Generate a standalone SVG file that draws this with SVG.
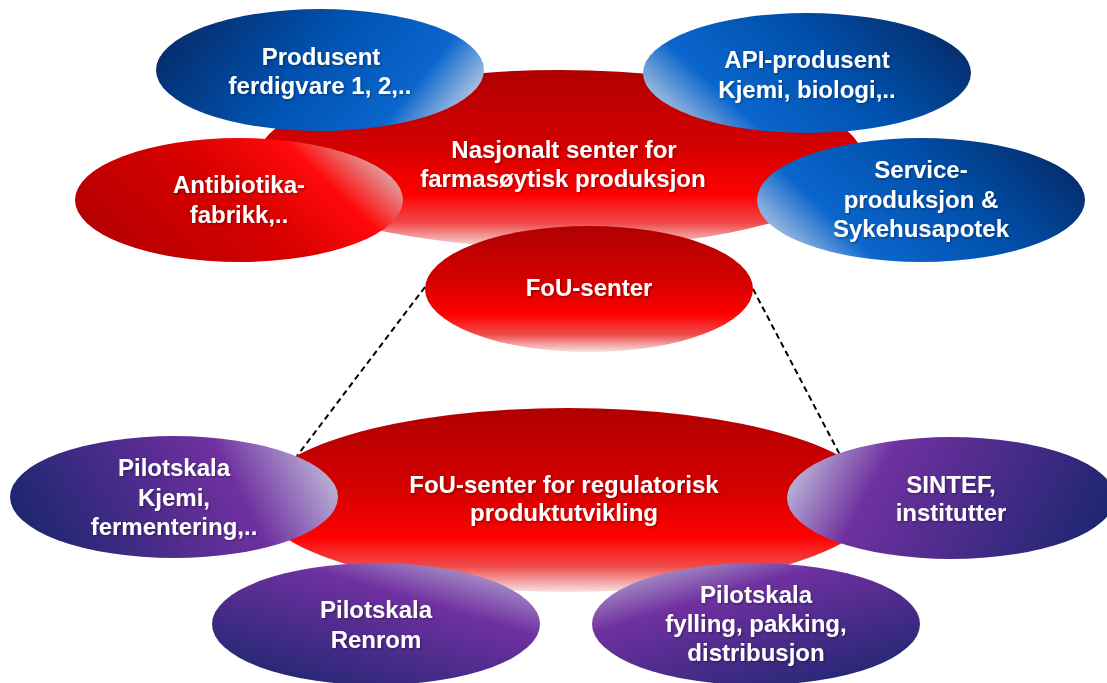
<svg xmlns="http://www.w3.org/2000/svg" width="1107" height="683" viewBox="0 0 1107 683">
<style>
  text { font-family: "Liberation Sans", Arial, sans-serif; font-weight: bold; font-size: 24px; fill: #ffffff; text-anchor: middle; filter: url(#ts); }
  .dash { stroke: #000000; stroke-width: 2; stroke-dasharray: 6 4; fill: none; }
</style>
<defs>
  <filter id="ts" x="-10%" y="-30%" width="120%" height="160%">
    <feDropShadow dx="1.2" dy="1.2" stdDeviation="0.8" flood-color="#000000" flood-opacity="0.35"/>
  </filter>
  <linearGradient id="redV" x1="0" y1="0" x2="0" y2="1">
    <stop offset="0" stop-color="#b00000"/>
    <stop offset="0.45" stop-color="#d60000"/>
    <stop offset="0.7" stop-color="#ff0000"/>
    <stop offset="0.86" stop-color="#f04a4a"/>
    <stop offset="1" stop-color="#f6e2e2"/>
  </linearGradient>
  <linearGradient id="redH" x1="0" y1="0.7" x2="1" y2="0.3">
    <stop offset="0" stop-color="#b40000"/>
    <stop offset="0.5" stop-color="#d80000"/>
    <stop offset="0.78" stop-color="#ff0a0a"/>
    <stop offset="1" stop-color="#dcb6b6"/>
  </linearGradient>
  <linearGradient id="blueR" x1="0" y1="0.35" x2="1" y2="0.65">
    <stop offset="0" stop-color="#062c6c"/>
    <stop offset="0.45" stop-color="#0052b0"/>
    <stop offset="0.8" stop-color="#0a66cc"/>
    <stop offset="1" stop-color="#b6c8e2"/>
  </linearGradient>
  <linearGradient id="blueL" x1="0" y1="0.7" x2="1" y2="0.3">
    <stop offset="0" stop-color="#b2c6e2"/>
    <stop offset="0.22" stop-color="#0a66cc"/>
    <stop offset="0.6" stop-color="#0050ac"/>
    <stop offset="1" stop-color="#062c6a"/>
  </linearGradient>
  <linearGradient id="purR" x1="0" y1="0.6" x2="1" y2="0.4">
    <stop offset="0" stop-color="#1c2670"/>
    <stop offset="0.7" stop-color="#7030a0"/>
    <stop offset="1" stop-color="#bab2d6"/>
  </linearGradient>
  <linearGradient id="purRenrom" x1="0.1" y1="1" x2="0.9" y2="0">
    <stop offset="0" stop-color="#1c2670"/>
    <stop offset="0.68" stop-color="#7030a0"/>
    <stop offset="1" stop-color="#bab2d6"/>
  </linearGradient>
  <linearGradient id="purL" x1="0" y1="0.4" x2="1" y2="0.6">
    <stop offset="0" stop-color="#bab2d6"/>
    <stop offset="0.25" stop-color="#7030a0"/>
    <stop offset="1" stop-color="#1c2670"/>
  </linearGradient>
  <linearGradient id="purFyl" x1="0.1" y1="0" x2="0.9" y2="1">
    <stop offset="0" stop-color="#bab2d6"/>
    <stop offset="0.3" stop-color="#7030a0"/>
    <stop offset="1" stop-color="#1c2670"/>
  </linearGradient>
</defs>

<g id="connectors">
  <line class="dash" x1="425" y1="287" x2="297" y2="456"/>
  <line class="dash" x1="753" y1="289" x2="840" y2="455"/>
</g>

<g id="nasjonalt-senter">
  <ellipse cx="560" cy="159" rx="303" ry="89" fill="url(#redV)"/>
  <text x="564" y="158">Nasjonalt senter for</text>
  <text x="563" y="187">farmasøytisk produksjon</text>
</g>

<g id="produsent-ferdigvare">
  <ellipse cx="320" cy="70" rx="164" ry="61" fill="url(#blueR)"/>
  <text x="321" y="65">Produsent</text>
  <text x="320" y="94">ferdigvare 1, 2,..</text>
</g>

<g id="api-produsent">
  <ellipse cx="807" cy="73" rx="164" ry="60" fill="url(#blueL)"/>
  <text x="807" y="68">API-produsent</text>
  <text x="807" y="98">Kjemi, biologi,..</text>
</g>

<g id="antibiotika">
  <ellipse cx="239" cy="200" rx="164" ry="62" fill="url(#redH)"/>
  <text x="239" y="193">Antibiotika-</text>
  <text x="239" y="223">fabrikk,..</text>
</g>

<g id="service">
  <ellipse cx="921" cy="200" rx="164" ry="62" fill="url(#blueL)"/>
  <text x="921" y="178">Service-</text>
  <text x="921" y="208">produksjon &amp;</text>
  <text x="921" y="237">Sykehusapotek</text>
</g>

<g id="fou-senter">
  <ellipse cx="589" cy="289" rx="164" ry="63" fill="url(#redV)"/>
  <text x="589" y="296">FoU-senter</text>
</g>

<g id="fou-regulatorisk">
  <ellipse cx="568" cy="500" rx="310" ry="92" fill="url(#redV)"/>
  <text x="564" y="493">FoU-senter for regulatorisk</text>
  <text x="564" y="521">produktutvikling</text>
</g>

<g id="pilot-kjemi">
  <ellipse cx="174" cy="497" rx="164" ry="61" fill="url(#purR)"/>
  <text x="174" y="476">Pilotskala</text>
  <text x="174" y="506">Kjemi,</text>
  <text x="174" y="535">fermentering,..</text>
</g>

<g id="sintef">
  <ellipse cx="951" cy="498" rx="164" ry="61" fill="url(#purL)"/>
  <text x="951" y="493">SINTEF,</text>
  <text x="951" y="521">institutter</text>
</g>

<g id="pilot-renrom">
  <ellipse cx="376" cy="624" rx="164" ry="61" fill="url(#purRenrom)"/>
  <text x="376" y="618">Pilotskala</text>
  <text x="376" y="648">Renrom</text>
</g>

<g id="pilot-fylling">
  <ellipse cx="756" cy="624" rx="164" ry="61" fill="url(#purFyl)"/>
  <text x="756" y="603">Pilotskala</text>
  <text x="756" y="632">fylling, pakking,</text>
  <text x="756" y="661">distribusjon</text>
</g>
</svg>
